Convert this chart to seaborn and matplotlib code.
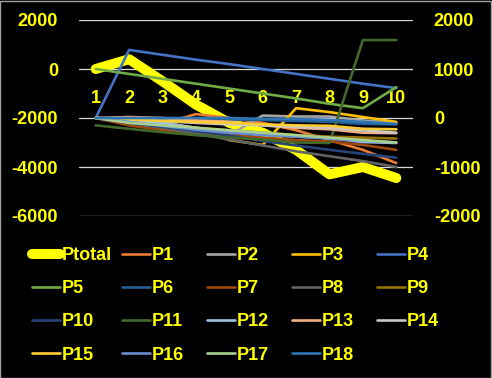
import matplotlib
matplotlib.use("Agg")
import matplotlib.pyplot as plt
import seaborn as sns
from matplotlib.patches import Rectangle

sns.set_theme(style="dark")
plt.rcParams['font.family'] = ['Liberation Sans', 'DejaVu Sans']

categories = [1, 2, 3, 4, 5, 6, 7, 8, 9, 10]
left_ticks = [-6000, -4000, -2000, 0, 2000]
right_ticks = [-2000, -1000, 0, 1000, 2000]

ptotal = [0, 400, -500, -1450, -2200, -2600, -3300, -4300, -4000, -4450]

P1 = [0, -60, -120, 80, 0, -100, -250, -450, -650, -920]
P2 = [0, -100, -200, -300, -350, 50, 30, 30, -50, -100]
P3 = [0, -50, -100, -200, -450, -550, 200, 120, 20, -80]
P4 = [0, 1390, 1290, 1190, 1100, 1000, 900, 800, 700, 610]
P5 = [1000, 900, 800, 700, 600, 500, 400, 290, 200, 630]
P6 = [0, -20, -30, -20, -30, -40, -60, -80, -120, -130]
P7 = [0, -150, -250, -300, -350, -400, -450, -480, -550, -650]
P8 = [0, -100, -200, -320, -440, -560, -680, -780, -880, -1000]
P9 = [0, -80, -150, -200, -250, -300, -350, -380, -400, -420]
P10 = [0, -100, -180, -270, -360, -470, -560, -650, -730, -810]
P11 = [-150, -220, -290, -350, -400, -440, -500, -510, 1590, 1590]
P12 = [0, -50, -100, -200, -270, -330, -380, -410, -490, -510]
P13 = [0, 20, 0, -50, -80, -150, -200, -230, -300, -310]
P14 = [0, -30, -60, -100, -130, -150, -180, -200, -250, -300]
P15 = [0, -30, -60, -80, -100, -130, -150, -160, -220, -230]
P16 = [0, -80, -160, -240, -300, -350, -380, -420, -460, -500]
P17 = [0, -100, -150, -200, -250, -300, -350, -400, -450, -500]
P18 = [0, 0, 0, 0, 0, -20, -20, -40, -80, -120]

series_names = ["P1", "P2", "P3", "P4", "P5", "P6", "P7", "P8", "P9", "P10",
                "P11", "P12", "P13", "P14", "P15", "P16", "P17", "P18"]
series_vals = [P1, P2, P3, P4, P5, P6, P7, P8, P9, P10,
               P11, P12, P13, P14, P15, P16, P17, P18]
series_colors = ["#ED7D31", "#A5A5A5", "#FFC000", "#4472C4", "#70AD47", "#255E91",
                 "#9E480E", "#636363", "#997300", "#264478", "#43682B", "#9DC3E6",
                 "#F4B183", "#C9C9C9", "#FFCD33", "#698ED0", "#A9D18E", "#2E75B6"]

YEL = "#FFFF00"
W, H = 492, 378
fig = plt.figure(figsize=(W / 100, H / 100), dpi=100, facecolor="black")
ax = fig.add_axes([79 / W, 1 - 216 / H, (413 - 79) / W, (216 - 20) / H])
ax.set_facecolor("black")
ax2 = ax.twinx()
ax2.patch.set_visible(False)

sns.lineplot(x=categories, y=ptotal, ax=ax, color=YEL, linewidth=7.2,
             solid_capstyle="round", solid_joinstyle="round", legend=False)
handles = [ax.lines[-1]]
ax.lines[-1].set_label("Ptotal")

for name, vals, col in zip(series_names, series_vals, series_colors):
    sns.lineplot(x=categories, y=vals, ax=ax2, color=col, linewidth=1.9,
                 solid_joinstyle="round", legend=False)
    ln = ax2.lines[-1]
    ln.set_label(name)
    handles.append(ln)

for a in (ax, ax2):
    if a.get_legend() is not None:
        a.get_legend().remove()

ax.set_xlim(0.5, 10.5)
ax.set_ylim(-6000, 2000)
ax2.set_ylim(-2000, 2000)
ax.set_yticks(left_ticks)
ax.set_yticklabels([str(v) for v in left_ticks])
ax2.set_yticks(right_ticks)
ax2.set_yticklabels([str(v) for v in right_ticks])
ax.set_xticks(categories)
ax.set_xticklabels([str(c) for c in categories])

ax.grid(False)
ax2.grid(False)
ax.yaxis.grid(True, color="#D9D9D9", linewidth=0.9)
ax.xaxis.grid(False)
for a in (ax, ax2):
    for s in a.spines.values():
        s.set_visible(False)
ax.spines['bottom'].set_position(('data', -760))

ax.tick_params(axis='y', length=0, pad=15, labelsize=13, labelcolor=YEL)
ax2.tick_params(axis='y', length=0, pad=15, labelsize=13, labelcolor=YEL)
ax.tick_params(axis='x', length=0, pad=2, labelsize=13, labelcolor=YEL)
for lab in ax.get_yticklabels() + ax2.get_yticklabels() + ax.get_xticklabels():
    lab.set_fontweight("bold")
ax.set_xlabel("")
ax.set_ylabel("")
ax2.set_ylabel("")

# Legend: 5 columns, row-major order
col_x = [32, 122, 207, 292, 377]
for c in range(5):
    hs = [handles[r * 5 + c] for r in range(4) if r * 5 + c < len(handles)]
    leg = fig.legend(handles=hs, labels=[h.get_label() for h in hs],
                     loc="upper left", bbox_to_anchor=(col_x[c] / W, 1 - 247 / H),
                     frameon=False, ncol=1, handlelength=1.55, handletextpad=0.1,
                     borderpad=0, borderaxespad=0, labelspacing=0.9,
                     prop={"size": 13, "weight": "bold"})
    for t in leg.get_texts():
        t.set_color(YEL)

fig.patches.append(Rectangle((0.001, 0.001), 0.997, 0.997, transform=fig.transFigure,
                             fill=False, edgecolor="#A0A0A0", linewidth=1))

fig.savefig("out.png", dpi=100, facecolor="black")
